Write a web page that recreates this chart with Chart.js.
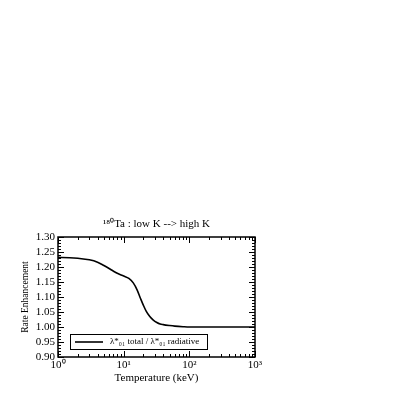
<!DOCTYPE html>
<html>
<head>
<meta charset="utf-8">
<script src="https://cdn.jsdelivr.net/npm/chart.js@4/dist/chart.umd.min.js"></script>
<style>
  html, body { margin: 0; padding: 0; background: #fff; }
  canvas { display: block; }
</style>
</head>
<body>
<canvas id="grafico" width="403" height="403"></canvas>
<script>
// dados
const temperatura = [1, 1.5, 2, 3, 4, 5, 6, 7, 8, 10, 12, 14, 16, 18, 20, 22, 25, 28, 32, 36, 40, 50, 60, 80, 100, 200, 500, 1000];
const realce = [1.232, 1.231, 1.229, 1.224, 1.216, 1.205, 1.195, 1.186, 1.179, 1.170, 1.162, 1.147, 1.124, 1.096, 1.072, 1.053, 1.035, 1.024, 1.015, 1.010, 1.008, 1.005, 1.003, 1.001, 1.000, 1.000, 1.000, 1.000];
const rotuloSerie = 'λ*₀₁ total / λ*₀₁ radiative';
const titulo = '¹⁸⁰Ta : low K --> high K';
const ticksX = [1, 10, 100, 1000];
const rotulosX = ['10⁰', '10¹', '10²', '10³'];

const fonte = '"Liberation Serif", "Times New Roman", serif';

// título, ticks para dentro nos quatro lados, moldura e legenda
const moldura = {
    id: 'moldura',
    afterDatasetsDraw(chart) {
        const ctx = chart.ctx;
        const a = chart.chartArea;
        const sx = chart.scales.x, sy = chart.scales.y;
        ctx.save();
        ctx.fillStyle = '#000';
        ctx.font = '11px ' + fonte;
        ctx.textAlign = 'center';
        ctx.textBaseline = 'middle';
        ctx.fillText(titulo, (a.left + a.right) / 2, a.top - 13);

        ctx.strokeStyle = '#000';
        ctx.lineWidth = 1;
        ctx.beginPath();
        // eixo x log
        for (let d = 0; d < 3; d++) {
            for (let m = 1; m <= 10; m++) {
                const v = m * Math.pow(10, d);
                const px = Math.round(sx.getPixelForValue(v)) + 0.5;
                const len = (m === 1 || m === 10) ? 6 : 3;
                ctx.moveTo(px, a.bottom); ctx.lineTo(px, a.bottom - len);
                ctx.moveTo(px, a.top); ctx.lineTo(px, a.top + len);
            }
        }
        // eixo y
        for (let i = 0; i <= 40; i++) {
            const v = 0.9 + i * 0.01;
            const py = Math.round(sy.getPixelForValue(v)) + 0.5;
            const len = (i % 5 === 0) ? 6 : 3;
            ctx.moveTo(a.left, py); ctx.lineTo(a.left + len, py);
            ctx.moveTo(a.right, py); ctx.lineTo(a.right - len, py);
        }
        ctx.stroke();
        ctx.lineWidth = 1.5;
        ctx.strokeRect(a.left, a.top, a.right - a.left, a.bottom - a.top);

        // legenda dentro do gráfico
        const x0 = Math.round(a.left + 12), y0 = Math.round(a.bottom - 23);
        const w = 137, h = 15;
        ctx.lineWidth = 1;
        ctx.strokeRect(x0 + 0.5, y0 + 0.5, w, h);
        ctx.lineWidth = 1.6;
        ctx.beginPath();
        ctx.moveTo(x0 + 5, y0 + 8);
        ctx.lineTo(x0 + 33, y0 + 8);
        ctx.stroke();
        ctx.font = '9px ' + fonte;
        ctx.textAlign = 'left';
        ctx.fillText(chart.data.datasets[0].label, x0 + 40, y0 + 8);
        ctx.restore();
    }
};

new Chart(document.getElementById('grafico').getContext('2d'), {
    type: 'line',
    data: {
        labels: temperatura,
        datasets: [{
            label: rotuloSerie,
            data: temperatura.map((t, i) => ({ x: t, y: realce[i] })),
            borderColor: '#000',
            borderWidth: 1.6,
            pointRadius: 0,
            fill: false,
            cubicInterpolationMode: 'monotone'
        }]
    },
    plugins: [moldura],
    options: {
        responsive: false,
        animation: false,
        devicePixelRatio: 1,
        layout: { padding: { left: 20, top: 237, right: 148, bottom: 18 } },
        plugins: {
            legend: { display: false },
            tooltip: { enabled: false },
            title: { display: false }
        },
        scales: {
            x: {
                type: 'logarithmic',
                min: 1,
                max: 1000,
                afterBuildTicks: (s) => { s.ticks = ticksX.map(v => ({ value: v })); },
                afterFit: (s) => { s.height = 28; },
                grid: { display: false, drawTicks: false },
                border: { display: false },
                ticks: {
                    color: '#000',
                    font: { family: fonte, size: 11 },
                    padding: 2,
                    maxRotation: 0,
                    autoSkip: false,
                    callback: (v) => rotulosX[ticksX.indexOf(v)]
                },
                title: {
                    display: true,
                    text: 'Temperature (keV)',
                    color: '#000',
                    font: { family: fonte, size: 11 },
                    padding: 0
                }
            },
            y: {
                min: 0.9,
                max: 1.3,
                afterFit: (s) => { s.width = 38; },
                grid: { display: false, drawTicks: false },
                border: { display: false },
                ticks: {
                    stepSize: 0.05,
                    autoSkip: false,
                    color: '#000',
                    font: { family: fonte, size: 11 },
                    padding: 3,
                    callback: (v) => v.toFixed(2)
                },
                title: {
                    display: true,
                    text: 'Rate Enhancement',
                    color: '#000',
                    font: { family: fonte, size: 9.5 },
                    padding: 0
                }
            }
        }
    }
});
</script>
</body>
</html>
